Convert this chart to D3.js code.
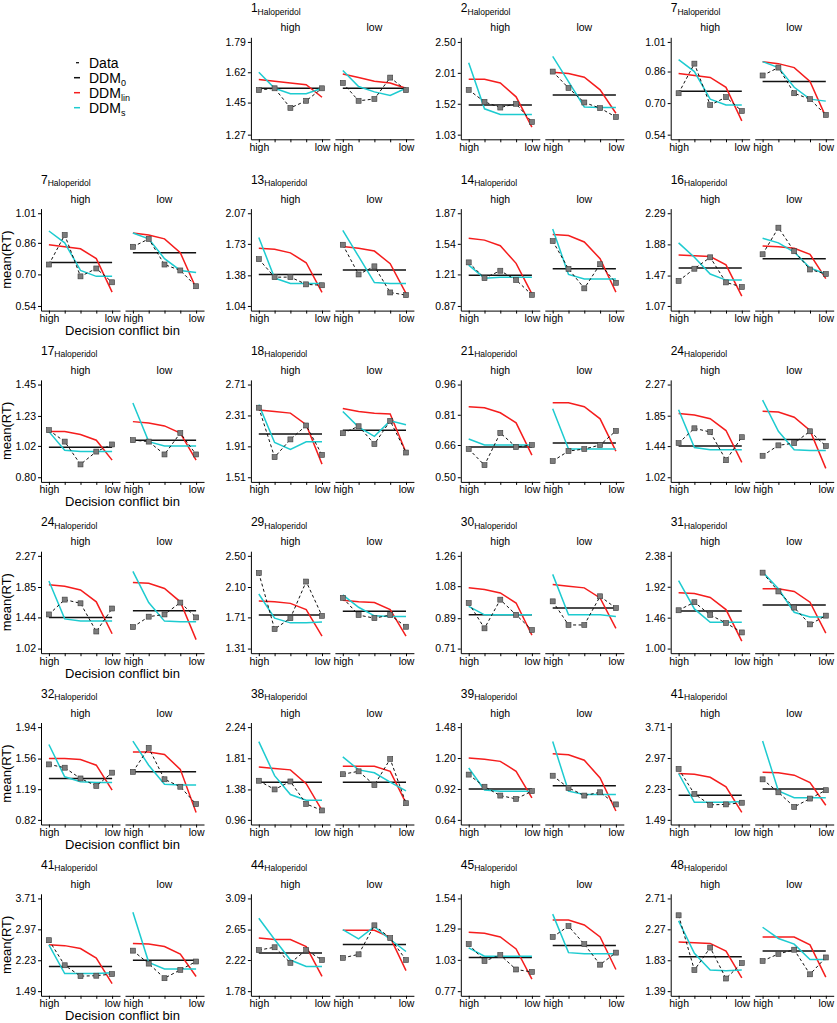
<!DOCTYPE html>
<html><head><meta charset="utf-8">
<script src="https://cdn.jsdelivr.net/npm/d3@7"></script>
<style>body{margin:0;background:#fff}svg{display:block;font-family:"Liberation Sans",Arial,sans-serif}</style>
</head><body>
<script>
// ---------- DATA ----------
const subjects = ["1","2","7","13","14","16","17","18","21","24","29","30","31","32","38","39","41","44","45","48"];
const gridOrder = [null,"1","2","7","7","13","14","16","17","18","21","24","24","29","30","31","32","38","39","41","41","44","45","48"];
const conditions = ["high","low"];
const bins = ["b1","b2","b3","b4","b5"];
const binLabels = ["high","","","","low"];
const yTickLabels = [
 ["1.27","1.45","1.62","1.79"],["1.03","1.52","2.01","2.50"],["0.54","0.70","0.86","1.01"],["1.04","1.38","1.73","2.07"],
 ["0.87","1.21","1.54","1.87"],["1.07","1.47","1.88","2.29"],["0.80","1.02","1.23","1.45"],["1.51","1.91","2.31","2.71"],
 ["0.50","0.66","0.81","0.96"],["1.02","1.44","1.85","2.27"],["1.31","1.71","2.10","2.50"],["0.71","0.89","1.08","1.26"],
 ["1.00","1.46","1.92","2.38"],["0.82","1.19","1.56","1.94"],["0.96","1.38","1.81","2.24"],["0.64","0.92","1.20","1.48"],
 ["1.49","2.23","2.97","3.71"],["1.78","2.22","2.65","3.09"],["0.77","1.03","1.29","1.54"],["1.39","1.83","2.27","2.71"]
];
const dataHigh = [
 [1.52,1.53,1.42,1.46,1.53],[1.74,1.55,1.46,1.52,1.23],[0.75,0.90,0.69,0.73,0.66],[1.56,1.36,1.36,1.28,1.27],
 [1.34,1.17,1.25,1.15,0.99],[1.40,1.56,1.71,1.38,1.32],[1.13,1.05,0.89,0.98,1.03],[2.41,1.77,2.00,2.18,1.80],
 [0.64,0.56,0.72,0.65,0.66],[1.48,1.68,1.63,1.25,1.56],[2.28,1.56,1.70,2.17,1.73],[0.98,0.83,1.00,0.91,0.82],
 [1.57,1.69,1.50,1.38,1.24],[1.49,1.45,1.32,1.23,1.39],[1.50,1.38,1.49,1.18,1.09],[1.05,0.94,0.86,0.83,0.90],
 [2.71,2.11,1.85,1.86,1.90],[2.36,2.40,2.18,2.36,2.22],[1.16,1.02,1.07,0.95,0.93],[2.47,1.69,2.01,1.57,1.79]
];
const dataLow = [
 [1.56,1.46,1.47,1.59,1.52],[2.03,1.77,1.54,1.45,1.31],[0.84,0.88,0.75,0.72,0.64],[1.72,1.39,1.48,1.19,1.16],
 [1.57,1.27,1.06,1.32,1.12],[1.75,2.10,1.79,1.55,1.49],[1.06,1.05,0.96,1.11,0.96],[2.08,2.17,1.94,2.24,1.83],
 [0.58,0.63,0.64,0.66,0.73],[1.31,1.45,1.48,1.64,1.44],[1.96,1.74,1.70,1.74,1.59],[0.99,0.85,0.85,1.02,0.95],
 [2.13,1.85,1.61,1.36,1.49],[1.40,1.69,1.31,1.22,1.01],[1.59,1.63,1.44,1.80,1.19],[1.04,0.93,0.86,0.89,0.78],
 [2.46,2.15,1.80,2.00,2.20],[2.25,2.30,2.71,2.53,2.22],[1.22,1.31,1.16,0.99,1.09],[1.82,1.92,1.98,1.63,1.87]
];
const ddm0High = [1.53,1.50,0.76,1.39,1.20,1.57,1.01,2.07,0.65,1.44,1.74,0.91,1.56,1.32,1.48,0.92,2.08,2.32,1.05,1.88];
const ddm0Low  = [1.53,1.66,0.81,1.44,1.27,1.69,1.06,2.12,0.67,1.53,1.79,0.95,1.65,1.40,1.48,0.95,2.23,2.44,1.15,1.96];
const ddmLinHigh = [
 [1.58,1.57,1.56,1.55,1.48],[1.91,1.91,1.85,1.63,1.15],[0.85,0.84,0.83,0.78,0.61],[1.68,1.67,1.63,1.52,1.19],
 [1.60,1.58,1.52,1.33,1.00],[1.74,1.73,1.72,1.61,1.20],[1.12,1.12,1.10,1.06,0.92],[2.38,2.36,2.34,2.19,1.68],
 [0.85,0.845,0.82,0.77,0.61],[1.88,1.86,1.81,1.65,1.22],[1.92,1.91,1.89,1.81,1.47],[1.07,1.06,1.04,0.98,0.79],
 [1.83,1.82,1.76,1.58,1.11],[1.56,1.56,1.55,1.48,1.18],[1.69,1.67,1.65,1.46,1.09],[1.20,1.19,1.17,1.08,0.84],
 [2.60,2.58,2.51,2.28,1.67],[2.53,2.51,2.51,2.41,1.99],[1.26,1.25,1.22,1.12,0.87],[2.09,2.08,2.07,1.96,1.58]
];
const ddmLinLow = [
 [1.61,1.59,1.57,1.56,1.53],[2.02,2.00,1.94,1.74,1.37],[0.91,0.90,0.88,0.81,0.63],[1.70,1.68,1.65,1.51,1.18],
 [1.64,1.63,1.56,1.38,1.02],[1.86,1.85,1.83,1.75,1.43],[1.19,1.18,1.16,1.11,0.92],[2.40,2.36,2.34,2.33,1.83],
 [0.87,0.87,0.85,0.79,0.63],[1.91,1.90,1.83,1.65,1.14],[1.93,1.91,1.90,1.81,1.47],[1.09,1.08,1.07,1.01,0.83],
 [1.89,1.89,1.85,1.69,1.23],[1.64,1.64,1.61,1.43,0.91],[1.70,1.70,1.70,1.63,1.19],[1.24,1.23,1.18,1.02,0.72],
 [2.63,2.62,2.56,2.38,1.84],[2.64,2.64,2.64,2.54,2.07],[1.36,1.36,1.32,1.22,0.95],[2.16,2.16,2.16,2.05,1.59]
];
const ddmSHigh = [
 [1.62,1.53,1.50,1.50,1.53],[2.17,1.44,1.35,1.35,1.35],[0.92,0.86,0.72,0.69,0.69],[1.80,1.35,1.29,1.29,1.29],
 [1.31,1.17,1.18,1.18,1.18],[1.90,1.71,1.49,1.41,1.41],[1.12,0.99,0.98,0.98,0.98],[2.45,1.96,1.87,1.97,1.97],
 [0.69,0.66,0.66,0.66,0.66],[1.93,1.42,1.39,1.39,1.39],[2.01,1.70,1.64,1.64,1.65],[0.96,0.91,0.91,0.91,0.91],
 [2.01,1.59,1.39,1.39,1.39],[1.73,1.34,1.28,1.27,1.27],[2.04,1.57,1.31,1.23,1.23],[1.11,0.91,0.90,0.90,0.90],
 [2.60,1.91,1.91,1.91,1.93],[2.81,2.51,2.22,2.13,2.13],[1.13,1.06,1.06,1.06,1.06],[2.39,1.93,1.69,1.68,1.69]
];
const ddmSLow = [
 [1.63,1.54,1.51,1.49,1.53],[2.27,1.87,1.47,1.46,1.46],[0.91,0.88,0.78,0.72,0.71],[1.88,1.59,1.30,1.29,1.29],
 [1.70,1.21,1.16,1.16,1.16],[1.96,1.90,1.78,1.57,1.49],[1.32,1.05,1.02,1.02,1.02],[2.36,2.16,2.04,2.24,2.19],
 [0.84,0.64,0.64,0.64,0.64],[2.06,1.64,1.39,1.38,1.38],[2.00,1.84,1.73,1.72,1.72],[1.15,0.91,0.91,0.91,0.90],
 [2.14,1.89,1.54,1.47,1.47],[1.77,1.48,1.25,1.24,1.24],[1.83,1.65,1.61,1.48,1.36],[1.35,0.90,0.87,0.87,0.87],
 [3.38,2.18,2.02,2.02,2.02],[2.65,2.52,2.69,2.51,2.34],[1.41,1.09,1.08,1.08,1.08],[2.30,2.14,2.06,1.84,1.84]
];
const legendLabels = [["Data",""],["DDM","0"],["DDM","lin"],["DDM","s"]];

// ---------- STYLE / LAYOUT ----------
const RED = "#f51d1d", CYAN = "#1dcbd0";
const colX = c => 41 + 209.9 * c;
const rowTop = r => 37.3 + 171.3 * r;
const panelH = 102, subW = 79, subGap = 5;

const svg = d3.select("body").append("svg").attr("width", 837).attr("height", 1023);

function styleAxis(sel) {
  sel.select(".domain").attr("stroke", "#000").attr("stroke-width", 1);
  sel.selectAll(".tick line").attr("stroke", "#000").attr("stroke-width", 1);
  sel.selectAll(".tick text").attr("fill", "#000").attr("font-size", "10.5px")
     .attr("font-family", '"Liberation Sans",Arial,sans-serif');
}

gridOrder.forEach((sid, i) => {
  const r = Math.floor(i / 4), c = i % 4;
  if (sid === null) { drawLegend(); return; }
  const idx = subjects.indexOf(sid);
  const g = svg.append("g").attr("transform", `translate(${colX(c)},${rowTop(r)})`);
  const tl = yTickLabels[idx], tv = tl.map(Number);
  const pad = (tv[3] - tv[0]) * 0.05;
  const y = d3.scaleLinear().domain([tv[0] - pad, tv[3] + pad]).range([panelH, 0]);

  // title
  const t = g.append("text").attr("x", 0).attr("y", -25).attr("fill", "#000");
  t.append("tspan").attr("font-size", "12px").text(sid);
  t.append("tspan").attr("font-size", "8.5px").attr("dy", 2.5).text("Haloperidol");

  // y axis
  const ya = g.append("g").call(d3.axisLeft(y).tickValues(tv).tickFormat((d, k) => tl[k])
      .tickSize(3).tickSizeOuter(0).tickPadding(2));
  styleAxis(ya);

  const seriesHigh = { data: dataHigh[idx], d0: ddm0High[idx], lin: ddmLinHigh[idx], s: ddmSHigh[idx] };
  const seriesLow  = { data: dataLow[idx],  d0: ddm0Low[idx],  lin: ddmLinLow[idx],  s: ddmSLow[idx] };

  conditions.forEach((cond, k) => {
    const S = k === 0 ? seriesHigh : seriesLow;
    const x0 = k * (subW + subGap);
    const x = d3.scalePoint().domain(bins).range([x0, x0 + subW]).padding(0.5);
    const xa = g.append("g").attr("transform", `translate(0,${panelH})`)
      .call(d3.axisBottom(x).tickFormat((d, j) => binLabels[j]).tickSize(3).tickSizeOuter(0).tickPadding(1));
    styleAxis(xa);
    g.append("text").attr("x", x0 + subW / 2).attr("y", -6).attr("text-anchor", "middle")
      .attr("font-size", "10.5px").attr("fill", "#000").text(cond);

    const line = d3.line().x((d, j) => x(bins[j])).y(d => y(d));
    g.append("path").attr("d", line(bins.map(() => S.d0))).attr("fill", "none")
      .attr("stroke", "#111").attr("stroke-width", 1.5);
    g.append("path").attr("d", line(S.lin)).attr("fill", "none").attr("stroke", RED).attr("stroke-width", 1.5);
    g.append("path").attr("d", line(S.s)).attr("fill", "none").attr("stroke", CYAN).attr("stroke-width", 1.5);
    g.append("path").attr("d", line(S.data)).attr("fill", "none").attr("stroke", "#111")
      .attr("stroke-width", 1).attr("stroke-dasharray", "3,2.5");
    g.selectAll(null).data(S.data).enter().append("rect")
      .attr("x", (d, j) => x(bins[j]) - 2.5).attr("y", d => y(d) - 2.5)
      .attr("width", 5).attr("height", 5).attr("fill", "#7c7c7c").attr("stroke", "#3c3c3c").attr("stroke-width", 0.6);
  });

  if (c === 0) {
    g.append("text").attr("transform", `translate(-30.5,${panelH / 2}) rotate(-90)`)
      .attr("text-anchor", "middle").attr("font-size", "13px").attr("fill", "#000").text("mean(RT)");
    g.append("text").attr("x", (2 * subW + subGap) / 2).attr("y", panelH + 24.5)
      .attr("text-anchor", "middle").attr("font-size", "13px").attr("fill", "#000").text("Decision conflict bin");
  }
});

function drawLegend() {
  const colors = ["#111", "#111", RED, CYAN];
  legendLabels.forEach((lab, i) => {
    const cy = 62.7 + 15 * i;
    if (i === 0) {
      svg.append("line").attr("x1", 76).attr("x2", 79).attr("y1", cy).attr("y2", cy)
        .attr("stroke", colors[i]).attr("stroke-width", 1.3);
    } else {
      svg.append("line").attr("x1", 74).attr("x2", 80).attr("y1", cy).attr("y2", cy)
        .attr("stroke", colors[i]).attr("stroke-width", 1.5);
    }
    const t = svg.append("text").attr("x", 89).attr("y", cy + 5).attr("font-size", "14px").attr("fill", "#000");
    t.append("tspan").text(lab[0]);
    if (lab[1]) t.append("tspan").attr("font-size", "9px").attr("dy", 3).text(lab[1]);
  });
}
</script>
</body></html>
